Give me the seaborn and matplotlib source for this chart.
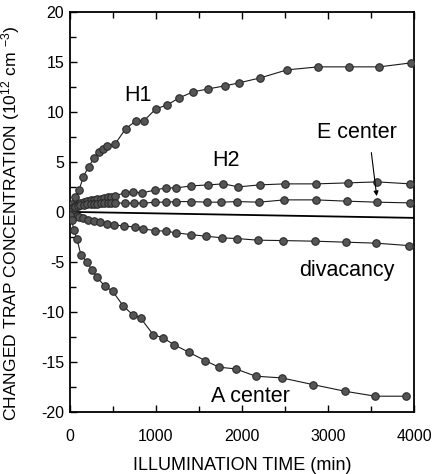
import numpy as np
import pandas as pd
import matplotlib
matplotlib.use("Agg")
import matplotlib.pyplot as plt
import seaborn as sns
from matplotlib.ticker import MultipleLocator

# Illumination time (min) and changed trap concentration (1e12 cm^-3) per trap
h1_t = [0, 30, 60, 108, 155, 217, 283, 337, 383, 434, 527, 647, 767, 860, 999,
        1134, 1270, 1432, 1611, 1800, 1967, 2214, 2524, 2888, 3240, 3596, 3968]
h1_v = [0.0, 0.8, 1.5, 2.2, 3.5, 4.5, 5.4, 6.0, 6.3, 6.6, 6.8, 8.3, 9.1, 9.1, 10.3,
        10.7, 11.4, 12.0, 12.3, 12.6, 12.9, 13.4, 14.2, 14.5, 14.5, 14.5, 14.9]

h2_t = [0, 30, 60, 90, 120, 160, 200, 240, 280, 320, 360, 400, 440, 480, 520,
        639, 735, 844, 995, 1123, 1239, 1413, 1611, 1785, 1959, 2207, 2497,
        2865, 3233, 3573, 3957]
h2_v = [0.0, 0.4, 0.6, 0.8, 0.9, 1.0, 1.1, 1.2, 1.2, 1.3, 1.3, 1.4, 1.5, 1.5, 1.6,
        1.9, 2.0, 1.9, 2.2, 2.4, 2.4, 2.6, 2.7, 2.8, 2.5, 2.7, 2.8,
        2.8, 2.9, 3.0, 2.8]

e_t = [0, 30, 60, 90, 120, 160, 200, 240, 280, 320, 360, 400, 440, 480, 520,
       639, 743, 852, 995, 1115, 1239, 1405, 1595, 1754, 1947, 2199, 2493,
       2857, 3221, 3569, 3949]
e_v = [0.0, 0.3, 0.5, 0.6, 0.7, 0.7, 0.8, 0.8, 0.8, 0.8, 0.9, 0.9, 0.9, 0.9, 0.9,
       0.87, 0.87, 0.87, 0.97, 0.97, 1.03, 1.03, 0.97, 0.97, 1.03, 0.97, 1.2,
       1.2, 1.07, 0.97, 0.9]

dv_t = [0, 20, 50, 80, 110, 147, 213, 283, 348, 426, 511, 631, 755, 852, 987,
        1123, 1239, 1405, 1580, 1773, 1947, 2187, 2478, 2846, 3214, 3562, 3938]
dv_v = [0.0, -0.2, -0.35, -0.45, -0.55, -0.6, -0.77, -0.93, -1.03, -1.17, -1.27,
        -1.43, -1.5, -1.7, -1.87, -1.93, -2.1, -2.27, -2.43, -2.6, -2.67, -2.83,
        -2.87, -2.93, -3.03, -3.13, -3.37]

a_t = [0, 20, 47, 81, 128, 197, 256, 314, 407, 496, 620, 728, 821, 968, 1084,
       1208, 1382, 1572, 1734, 1928, 2160, 2462, 2826, 3194, 3550, 3910]
a_v = [-0.3, -0.8, -1.8, -2.7, -4.27, -5.0, -5.77, -6.53, -7.43, -7.93, -9.4,
       -10.27, -10.6, -12.27, -12.6, -13.27, -14.03, -14.87, -15.53, -15.7,
       -16.43, -16.6, -17.27, -17.93, -18.43, -18.43]

traps = ["H1", "H2", "E center", "divacancy", "A center"]
series = [(h1_t, h1_v), (h2_t, h2_v), (e_t, e_v), (dv_t, dv_v), (a_t, a_v)]

x_ticks = [0, 1000, 2000, 3000, 4000]
y_ticks = [-20, -15, -10, -5, 0, 5, 10, 15, 20]

frames = [pd.DataFrame({"time": t, "conc": v, "trap": name})
          for name, (t, v) in zip(traps, series)]
df = pd.concat(frames, ignore_index=True)

sns.set_theme(style="ticks")
plt.rcParams["font.family"] = ["Liberation Sans", "DejaVu Sans"]
plt.rcParams["mathtext.fontset"] = "custom"
plt.rcParams["mathtext.rm"] = "Liberation Sans"
plt.rcParams["mathtext.it"] = "Liberation Sans"
plt.rcParams["text.color"] = "black"
plt.rcParams["axes.labelcolor"] = "black"
plt.rcParams["axes.unicode_minus"] = False

fig = plt.figure(figsize=(4.34, 4.74), dpi=100)
ax = fig.add_axes([0.161, 0.131, 0.793, 0.844])

# zero reference line
ax.plot([0, 4000], [0, -0.6], color="black", lw=1.3, zorder=1)

sns.lineplot(data=df, x="time", y="conc", hue="trap", units="trap",
             estimator=None, sort=False, ax=ax, legend=False,
             palette=["#1a1a1a"] * len(traps), lw=0.8,
             marker="o", markersize=5.4, markerfacecolor="#555555",
             markeredgecolor="#2a2a2a", markeredgewidth=0.8, zorder=3)

ax.set_xlim(0, 4000)
ax.set_ylim(-20, 20)
ax.set_xticks(x_ticks)
ax.set_yticks(y_ticks)
ax.xaxis.set_minor_locator(MultipleLocator(500))
ax.yaxis.set_minor_locator(MultipleLocator(2.5))
ax.tick_params(which="both", direction="in", top=True, right=False,
               labelsize=11.5, colors="black")
ax.tick_params(axis="x", pad=12)
ax.tick_params(axis="y", pad=4)
ax.tick_params(which="major", length=5, width=1)
ax.tick_params(which="minor", length=4, width=1)
for s in ax.spines.values():
    s.set_linewidth(1.3)
    s.set_color("black")

ax.set_xlabel("ILLUMINATION TIME (min)", fontsize=13, labelpad=10)
ax.set_ylabel("CHANGED TRAP CONCENTRATION (10$^{12}$ cm $^{-3}$)",
              fontsize=12.6)
ax.yaxis.set_label_coords(-0.14, 0.472)

ax.text(790, 11.6, "H1", fontsize=15.5, ha="center", va="center")
ax.text(1814, 5.1, "H2", fontsize=15.5, ha="center", va="center")
ax.text(3337, 7.9, "E center", fontsize=15.5, ha="center", va="center")
ax.text(3220, -5.9, "divacancy", fontsize=15.5, ha="center", va="center")
ax.text(2100, -18.5, "A center", fontsize=15.5, ha="center", va="center")
ax.annotate("", xy=(3570, 1.3), xytext=(3500, 6.2),
            arrowprops=dict(arrowstyle="-|>", color="black", lw=0.8,
                            mutation_scale=7))

fig.savefig("out.png", dpi=100, facecolor="white")
